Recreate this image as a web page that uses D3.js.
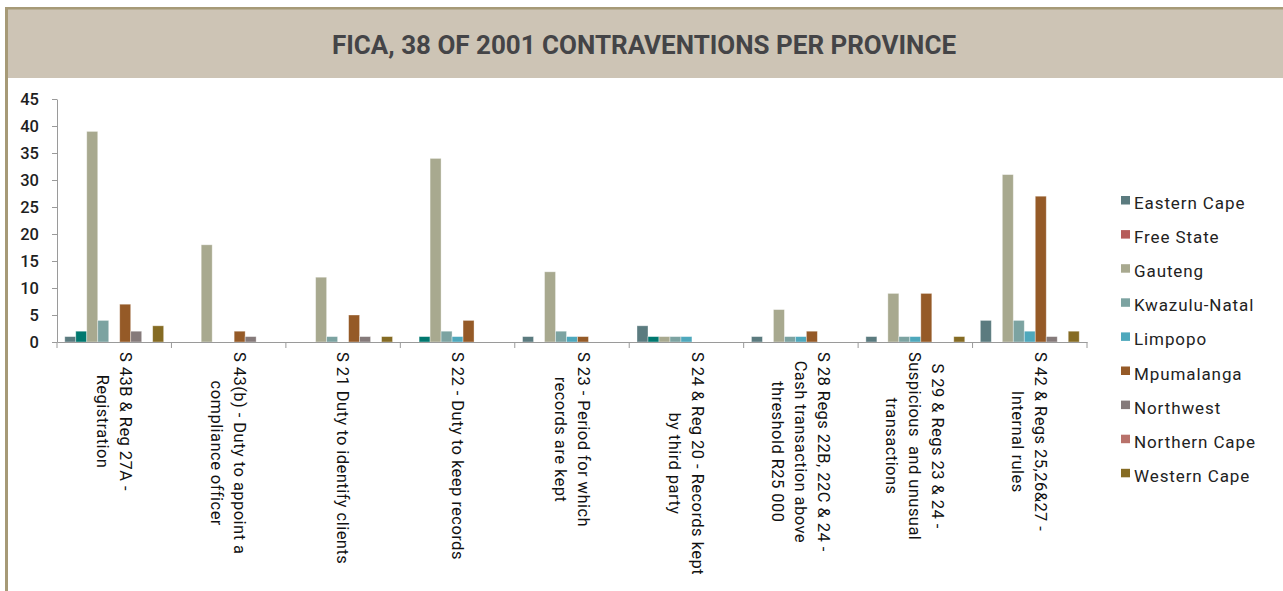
<!DOCTYPE html>
<html>
<head>
<meta charset="utf-8">
<script src="https://cdn.jsdelivr.net/npm/d3@7"></script>
<style>
  html, body { margin: 0; padding: 0; background: #fff; }
  svg { display: block; }
  text { font-family: Roboto, "Noto Sans", sans-serif; }
</style>
</head>
<body>
<svg id="chart" width="1283" height="591"></svg>
<script>
// Contravention sections (each entry is the wrapped label lines)
const categories = [
  ["S 43B & Reg 27A -", "Registration"],
  ["S 43(b) - Duty to appoint a", "compliance officer"],
  ["S 21 Duty to identify clients"],
  ["S 22 - Duty to keep records"],
  ["S 23 - Period for which", "records are kept"],
  ["S 24 & Reg 20 - Records kept", "by third party"],
  ["S 28 Regs 22B, 22C & 24 -", "Cash transaction above", "threshold R25 000"],
  ["S 29 & Regs 23 & 24 -", "Suspicious  and unusual", "transactions"],
  ["S 42 & Regs 25,26&27 -", "Internal rules"]
];

const provinces = ["Eastern Cape", "Free State", "Gauteng", "Kwazulu-Natal", "Limpopo",
                   "Mpumalanga", "Northwest", "Northern Cape", "Western Cape"];

// Counts per province, one value per section
const easternCape  = [1, 0, 0, 0, 1, 3, 1, 1, 4];
const freeState    = [2, 0, 0, 1, 0, 1, 0, 0, 0];
const gauteng      = [39, 18, 12, 34, 13, 1, 6, 9, 31];
const kwazuluNatal = [4, 0, 1, 2, 2, 1, 1, 1, 4];
const limpopo      = [0, 0, 0, 1, 1, 1, 1, 1, 2];
const mpumalanga   = [7, 2, 5, 4, 1, 0, 2, 9, 27];
const northwest    = [2, 1, 1, 0, 0, 0, 0, 0, 1];
const northernCape = [0, 0, 0, 0, 0, 0, 0, 0, 0];
const westernCape  = [3, 0, 1, 0, 0, 0, 0, 1, 2];

const seriesValues = [easternCape, freeState, gauteng, kwazuluNatal, limpopo,
                      mpumalanga, northwest, northernCape, westernCape];

const yTicks = [0, 5, 10, 15, 20, 25, 30, 35, 40, 45];

const legendColors = ["#5b7b7f", "#b65c5a", "#a8a98f", "#7ca3a1", "#4ea8bc",
                      "#955a27", "#857a7a", "#b8716a", "#856b23"];
// Free State columns are rendered in dark teal
const barColors = legendColors.slice();
barColors[1] = "#00786f";

const svg = d3.select("#chart");
const W = 1283, H = 591;

// Frame: tan rule along the top and left, title band
svg.append("rect").attr("x", 0).attr("y", 0).attr("width", W).attr("height", H).attr("fill", "#fff");
svg.append("rect").attr("x", 8).attr("y", 9).attr("width", W - 8).attr("height", 69).attr("fill", "#cdc4b5");
svg.append("rect").attr("x", 5).attr("y", 7).attr("width", W - 5).attr("height", 2.5).attr("fill", "#a69a77");
svg.append("rect").attr("x", 5).attr("y", 7).attr("width", 3).attr("height", H - 7).attr("fill", "#a69a77");

svg.append("text")
  .attr("x", 644).attr("y", 54)
  .attr("text-anchor", "middle")
  .attr("font-size", 26).attr("font-weight", 700)
  .attr("fill", "#444447")
  .attr("textLength", 624).attr("lengthAdjust", "spacingAndGlyphs")
  .text("FICA, 38 OF 2001 CONTRAVENTIONS PER PROVINCE");

// Scales
const plotLeft = 57, plotRight = 1087, yBottom = 342, yTop = 99;
const catIdx = d3.range(categories.length);
const x0 = d3.scaleBand().domain(catIdx).range([plotLeft, plotRight]).padding(0);
const bw = x0.bandwidth();
const x1 = d3.scaleBand().domain(d3.range(provinces.length))
  .range([bw * 0.068, bw * (1 - 0.068)]).padding(0);
const y = d3.scaleLinear().domain([0, 45]).range([yBottom, yTop]);

// Y axis
const yAxis = svg.append("g")
  .attr("transform", `translate(${plotLeft},0)`)
  .call(d3.axisLeft(y).tickValues(yTicks).tickSize(5).tickPadding(13).tickSizeOuter(0));
yAxis.select(".domain").attr("stroke", "#9a9a9a");
yAxis.selectAll(".tick line").attr("stroke", "#9a9a9a");
yAxis.selectAll(".tick text")
  .attr("font-size", 16.5).attr("font-weight", 500).attr("fill", "#1e1e1e")
  .style("font-family", "Roboto, sans-serif");

// Bars
const groups = svg.append("g").selectAll("g")
  .data(catIdx)
  .join("g")
  .attr("transform", i => `translate(${x0(i)},0)`);

groups.selectAll("rect")
  .data(i => seriesValues.map((s, k) => ({ k, v: s[i] })).filter(d => d.v > 0))
  .join("rect")
  .attr("x", d => x1(d.k))
  .attr("width", x1.bandwidth())
  .attr("y", d => y(d.v))
  .attr("height", d => y(0) - y(d.v))
  .attr("fill", d => barColors[d.k])
  .attr("stroke", "#ffffff").attr("stroke-opacity", 0.45).attr("stroke-width", 0.8);

// X axis with ticks on section boundaries
const xAxis = svg.append("g").attr("transform", `translate(0,${yBottom})`)
  .call(d3.axisBottom(x0).tickSize(0).tickFormat(""));
xAxis.select(".domain").attr("stroke", "#9a9a9a").attr("stroke-width", 1.2);
const bounds = catIdx.map(i => x0(i)).concat([x0(catIdx.length - 1) + bw]);
xAxis.selectAll(".bound")
  .data(bounds)
  .join("line")
  .attr("class", "bound")
  .attr("x1", d => d).attr("x2", d => d)
  .attr("y1", 0).attr("y2", 6)
  .attr("stroke", "#9a9a9a");

// Section labels, rotated to read downwards, lines centred on each other
const labelTop = 352, lineGap = 23, labelSize = 16.5;
catIdx.forEach(i => {
  const lines = categories[i];
  const g = svg.append("g")
    .attr("transform", `translate(${x0(i) + bw / 2},${labelTop}) rotate(90)`);
  const texts = g.selectAll("text")
    .data(lines)
    .join("text")
    .attr("font-size", labelSize)
    .attr("letter-spacing", 0.45)
    .attr("fill", "#111")
    .attr("text-anchor", "middle")
    .style("white-space", "pre")
    .text(d => d);
  let maxLen = 0;
  texts.each(function () { maxLen = Math.max(maxLen, this.getComputedTextLength()); });
  const n = lines.length;
  texts
    .attr("x", maxLen / 2)
    .attr("y", (d, j) => (j - (n - 1) / 2) * lineGap + labelSize * 0.36);
});

// Legend
const legend = svg.append("g").selectAll("g")
  .data(provinces)
  .join("g")
  .attr("transform", (d, k) => `translate(1121,${196 + k * 34.1})`);
legend.append("rect")
  .attr("width", 9).attr("height", 8.5)
  .attr("fill", (d, k) => legendColors[k]);
legend.append("text")
  .attr("x", 13).attr("y", 13)
  .attr("font-size", 17).attr("letter-spacing", 0.9)
  .attr("fill", "#222")
  .text(d => d);
</script>
</body>
</html>
